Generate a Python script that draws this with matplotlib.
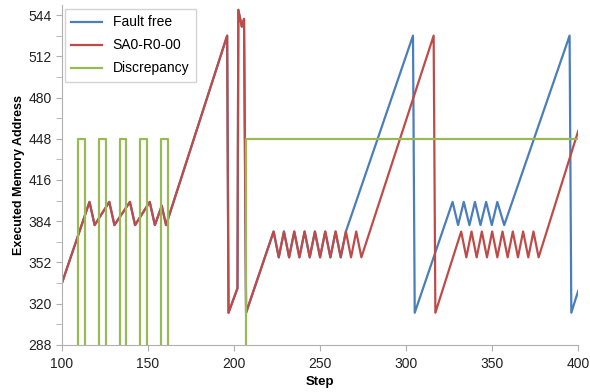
import matplotlib.pyplot as plt
from matplotlib.ticker import MultipleLocator

plt.rcParams['font.family'] = ['Liberation Sans', 'DejaVu Sans']

# path shared by both runs (blue is hidden under red here)
common_steps = [100, 116, 119, 127.5, 130.5, 139.5, 142.5, 151, 154, 158, 160.5,
                196, 196.8, 202, 202.5, 204.5, 205.8, 207,
                223, 226, 229, 232, 235, 238, 241, 244, 247, 250, 253, 256,
                259, 262, 265]
common_vals = [336, 399, 381, 399, 381, 399, 381, 399, 381, 396, 381,
               528, 313, 332, 548, 535, 541, 313,
               376, 356, 376, 356, 376, 356, 376, 356, 376, 356, 376, 356,
               376, 356, 376]

# fault free run after it leaves the faulty one
free_steps = [304, 305, 327, 330.2, 333.5, 336.8, 340, 343.2, 346.5, 349.8, 353,
              357, 395, 396, 400]
free_vals = [528, 313, 399, 381, 399, 381, 399, 381, 399, 381, 399,
             381, 528, 313, 330]

# SA0-R0-00 run after step 265
fault_steps = [268, 271, 274, 316, 317, 332, 335, 338, 341, 344, 347, 350, 353,
               356, 359, 362, 365, 368, 371, 374, 377, 400]
fault_vals = [356, 376, 356, 528, 313, 376, 356, 376, 356, 376, 356, 376, 356,
              376, 356, 376, 356, 376, 356, 376, 356, 454]

# discrepancy flag (step function, low level sits below the axis floor)
disc_steps = [100, 109.5, 113.5, 121.5, 125.5, 133.5, 137.5, 145.5, 149.5,
              157.5, 161.5, 207, 400]
disc_vals = [280, 448, 280, 448, 280, 448, 280, 448, 280, 448, 280, 448, 448]

blue = '#4a7ebb'
red = '#be4b48'
green = '#98b954'

fig = plt.figure(figsize=(5.9, 3.92), dpi=100)
ax = fig.add_axes([0.105, 0.12, 0.875, 0.868])

ax.plot(common_steps + free_steps, common_vals + free_vals, color=blue, lw=1.6,
        label='Fault free')
ax.plot(common_steps + fault_steps, common_vals + fault_vals, color=red, lw=1.6,
        label='SA0-R0-00')
ax.plot(disc_steps, disc_vals, color=green, lw=1.6, drawstyle='steps-post',
        label='Discrepancy')

ax.set_xlim(100, 400)
ax.set_ylim(288, 552)
ax.set_xticks(range(100, 401, 50))
ax.set_yticks(range(288, 545, 32))
ax.yaxis.set_minor_locator(MultipleLocator(16))

for s in ['top', 'right']:
    ax.spines[s].set_visible(False)
for s in ['left', 'bottom']:
    ax.spines[s].set_color('#b0b0b0')
    ax.spines[s].set_zorder(3)
ax.tick_params(axis='both', which='both', colors='#b0b0b0', labelcolor='#222222',
               labelsize=10, direction='out', length=4)
ax.tick_params(axis='x', pad=5)

ax.set_xlabel('Step', fontsize=9.5, fontweight='bold', labelpad=3)
ax.set_ylabel('Executed Memory Address', fontsize=9, fontweight='bold', labelpad=2)

leg = ax.legend(loc='upper left', fontsize=10, frameon=True, fancybox=False,
                borderpad=0.45, labelspacing=0.65, handlelength=2.2,
                borderaxespad=0.2, bbox_to_anchor=(0.0, 0.995))
leg.get_frame().set_edgecolor('#c8c8c8')
leg.get_frame().set_linewidth(1.0)

fig.savefig('out.png', dpi=100)
